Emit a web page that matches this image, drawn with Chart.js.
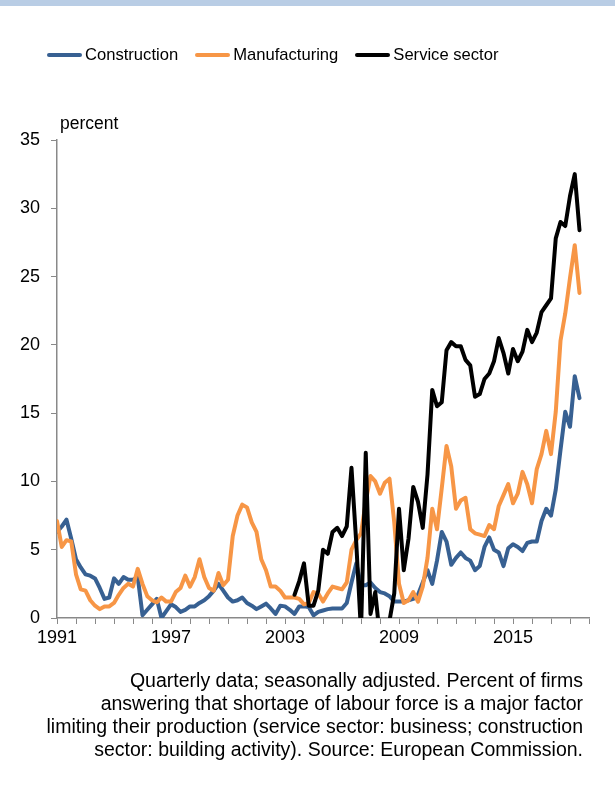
<!DOCTYPE html>
<html>
<head>
<meta charset="utf-8">
<script src="https://cdn.jsdelivr.net/npm/chart.js@4.4.1/dist/chart.umd.min.js"></script>
<style>
  html, body { margin: 0; padding: 0; background: #fff; }
  #wrap {
    position: relative; width: 615px; height: 787px; overflow: hidden;
    font-family: 'Liberation Sans', Arial, sans-serif; color: #000;
  }
  #topbar { position: absolute; left: 0; top: 0; width: 615px; height: 6px; background: #b9cde5; }
  #chart { position: absolute; left: 0; top: 0; }
  #legend {
    position: absolute; left: 47px; top: 45px; height: 20px;
    display: flex; align-items: center; gap: 17px; font-size: 16.6px; white-space: nowrap;
  }
  #legend .item { display: flex; align-items: center; }
  #legend .swatch { display: inline-block; width: 35px; height: 4px; border-radius: 2px; margin-right: 3px; }
  #unit { position: absolute; left: 60px; top: 113px; font-size: 17.5px; }
  #note {
    position: absolute; right: 32px; top: 669px; text-align: right;
    font-size: 19.5px; line-height: 23px; white-space: nowrap;
  }
</style>
</head>
<body>
<div id="wrap">
  <div id="topbar"></div>
  <canvas id="chart" width="615" height="787"></canvas>
  <div id="legend"></div>
  <div id="unit">percent</div>
  <div id="note">
    Quarterly data; seasonally adjusted. Percent of firms<br>
    answering that shortage of labour force is a major factor<br>
    limiting their production (service sector: business; construction<br>
    sector: building activity). Source: European Commission.
  </div>
</div>
<script>
'use strict';

/* ── DATA (quarterly, first value = 1991 Q1) ─────────────────────────── */
const firstYear = 1991;
const lastYear  = 2019;
const tickYears = [1991, 1997, 2003, 2009, 2015];
const yTicks    = [0, 5, 10, 15, 20, 25, 30, 35];

const construction = [
  6.3, 6.7, 7.2, 5.8, 4.3, 3.7, 3.2, 3.1, 2.9, 2.2, 1.4, 1.5, 2.9, 2.5, 3.0, 2.8,
  2.8, 3.0, 0.2, 0.6, 1.0, 1.4, 0.0, 0.5, 1.0, 0.8, 0.45, 0.6, 0.85, 0.85, 1.1, 1.3,
  1.6, 2.0, 2.5, 2.0, 1.5, 1.2, 1.3, 1.5, 1.1, 0.9, 0.65, 0.85, 1.05, 0.7, 0.3, 0.9,
  0.85, 0.6, 0.3, 0.85, 0.85, 0.8, 0.2, 0.45, 0.55, 0.65, 0.7, 0.7, 0.7, 1.1, 2.6, 4.0,
  2.4, 2.4, 2.6, 2.2, 1.9, 1.8, 1.6, 1.2, 1.2, 1.2, 1.3, 1.4, 1.7, 2.6, 3.5, 2.5,
  4.2, 6.3, 5.6, 3.9, 4.4, 4.8, 4.4, 4.2, 3.5, 3.8, 5.2, 5.9, 5.0, 4.8, 3.8, 5.1,
  5.4, 5.2, 4.9, 5.5, 5.6, 5.6, 7.1, 8.0, 7.5, 9.4, 12.3, 15.1, 14.0, 17.7, 16.1
];

const manufacturing = [
  7.1, 5.2, 5.7, 5.6, 3.2, 2.1, 2.0, 1.3, 0.9, 0.65, 0.85, 0.85, 1.1, 1.7, 2.2, 2.5,
  2.3, 3.6, 2.5, 1.6, 1.3, 1.15, 1.5, 1.2, 1.2, 1.9, 2.2, 3.1, 2.3, 3.0, 4.3, 3.0,
  2.2, 2.0, 3.3, 2.4, 2.8, 6.0, 7.5, 8.3, 8.1, 7.0, 6.3, 4.3, 3.5, 2.3, 2.3, 2.0,
  1.5, 1.5, 1.5, 1.4, 1.0, 1.1, 1.9, 1.8, 1.2, 1.8, 2.3, 2.2, 2.1, 2.6, 5.0, 5.7,
  6.2, 8.5, 10.4, 10.0, 9.1, 9.9, 10.2, 7.0, 2.5, 1.1, 1.3, 1.9, 1.2, 2.3, 4.4, 8.0,
  6.5, 9.5, 12.6, 11.1, 8.0, 8.6, 8.8, 6.5, 6.2, 6.1, 6.0, 6.8, 6.5, 8.2, 9.0, 9.8,
  8.4, 9.1, 10.7, 9.8, 8.4, 10.9, 12.0, 13.7, 12.0, 15.1, 20.3, 22.3, 24.9, 27.3, 23.8
];

// service sector survey starts in 2003 Q3
const services = [
  null, null, null, null, null, null, null, null, null, null, null, null, null, null, null, null,
  null, null, null, null, null, null, null, null, null, null, null, null, null, null, null, null,
  null, null, null, null, null, null, null, null, null, null, null, null, null, null, null, null,
  null, null, 1.7, 2.7, 4.0, 0.9, 0.9, 2.0, 5.0, 4.7, 6.3, 6.6, 6.0, 6.7, 11.0, 5.5,
  -1.0, 12.1, 0.3, 1.9, -1.5, -1.5, -0.2, 1.8, 8.0, 3.5, 5.8, 9.6, 8.5, 6.6, 10.5, 16.7,
  15.5, 15.8, 19.6, 20.2, 19.9, 19.9, 18.9, 18.5, 16.2, 16.4, 17.5, 17.9, 18.8, 20.5, 19.4, 17.9,
  19.7, 18.8, 19.5, 21.1, 20.2, 20.9, 22.4, 22.9, 23.4, 27.8, 29.0, 28.7, 30.9, 32.5, 28.4
];

/* ── HELPERS ─────────────────────────── */
const toPoints = arr => arr.map((v, i) => ({ x: firstYear + i / 4, y: v }));

const allYears = [];
for (let y = firstYear; y <= lastYear; y++) allYears.push(y);

const axisGrey = '#898989';
const font = { family: "'Liberation Sans', Arial, sans-serif", size: 18 };

const lineStyle = color => ({
  borderColor:     color,
  backgroundColor: color,
  borderWidth:     4,
  borderCapStyle:  'round',
  borderJoinStyle: 'round',
  pointRadius:     0,
  tension:         0,
  fill:            false,
});

/* ── CHART ─────────────────────────── */
const chart = new Chart(document.getElementById('chart'), {
  type: 'line',
  data: {
    datasets: [
      { label: 'Construction',   data: toPoints(construction),  order: 2, ...lineStyle('#376092') },
      { label: 'Manufacturing',  data: toPoints(manufacturing), order: 1, ...lineStyle('#f79646') },
      { label: 'Service sector', data: toPoints(services),      order: 0, ...lineStyle('#000000') },
    ],
  },
  options: {
    responsive: false,
    animation: false,
    layout: { padding: { left: 0, top: 140, right: 26, bottom: 129 } },
    plugins: {
      legend:  { display: false },
      tooltip: { enabled: false },
    },
    scales: {
      x: {
        type: 'linear',
        min: firstYear,
        max: lastYear,
        afterBuildTicks: s => { s.ticks = allYears.map(v => ({ value: v })); },
        afterFit: s => { s.height = 40; },
        grid:   { drawOnChartArea: false, drawTicks: true, tickLength: 6, color: axisGrey, lineWidth: 1 },
        border: { color: axisGrey, width: 1.5 },
        ticks: {
          autoSkip: false, maxRotation: 0, padding: 3, color: '#000', font,
          callback: v => (tickYears.includes(v) ? String(v) : ''),
        },
      },
      y: {
        min: 0,
        max: 35,
        afterBuildTicks: s => { s.ticks = yTicks.map(v => ({ value: v })); },
        afterFit: s => { s.width = 57; },
        grid:   { drawOnChartArea: false, drawTicks: true, tickLength: 6, color: axisGrey, lineWidth: 1 },
        border: { color: axisGrey, width: 1.5 },
        ticks:  { padding: 11, color: '#000', font },
      },
    },
  },
});

/* ── HTML LEGEND ─────────────────────────── */
const legendEl = document.getElementById('legend');
chart.data.datasets.forEach(ds => {
  const item = document.createElement('div');
  item.className = 'item';
  item.innerHTML = `<span class="swatch" style="background:${ds.borderColor}"></span>${ds.label}`;
  legendEl.appendChild(item);
});
</script>
</body>
</html>
